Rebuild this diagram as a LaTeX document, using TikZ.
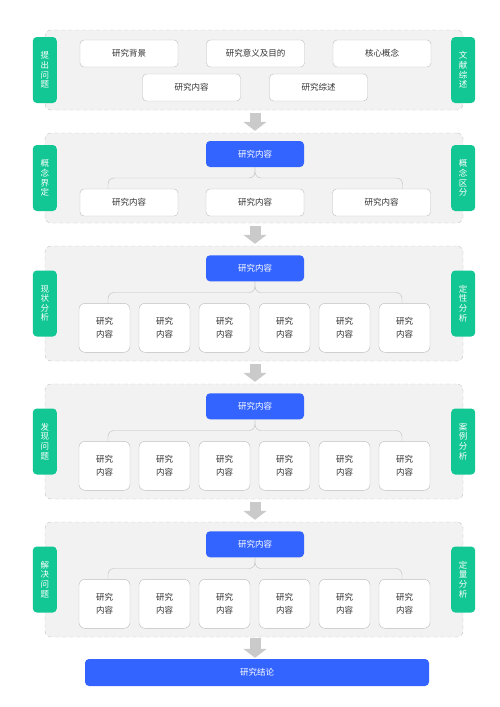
\documentclass[tikz,border=0pt]{standalone}
\usepackage{fontspec}
\setmainfont{Noto Sans CJK SC}
\usepackage{xcolor}
\usetikzlibrary{arrows.meta}

\begin{document}
\begin{tikzpicture}[x=1pt,y=-1pt,
  panel/.style={draw=linegray,fill=panelgray,dash pattern=on 4pt off 3pt,rounded corners=6,minimum width=418,minimum height=#1},
  side/.style={fill=sidegreen,text=white,rounded corners=4,minimum width=24,minimum height=66,align=center,inner sep=0,font={\fontsize{8.5}{9.6}\selectfont\lineskiplimit=-20pt}},
  wbox/.style={draw=boxgray,fill=white,rounded corners=4,minimum width=98,minimum height=27,inner sep=0,text=txtgray,font={\fontsize{8.5}{12}\selectfont}},
  sbox/.style={draw=boxgray,fill=white,rounded corners=6,minimum width=51,minimum height=49,inner sep=0,align=center,text=txtgray,font={\fontsize{8.5}{12.5}\selectfont\lineskiplimit=-20pt}},
  bbox/.style={fill=mainblue,text=white,rounded corners=4,minimum width=98,minimum height=26,inner sep=0,font={\fontsize{8.5}{12}\selectfont}},
  brace/.style={draw=boxgray,rounded corners=6},
  flow/.style={draw=arrowgray,line width=11pt,-{Triangle[width=23pt,length=9pt]}}]
\definecolor{panelgray}{HTML}{F2F2F2}
\definecolor{linegray}{HTML}{C4C4C4}
\definecolor{boxgray}{HTML}{BDBDBD}
\definecolor{txtgray}{HTML}{333333}
\definecolor{sidegreen}{HTML}{12C793}
\definecolor{mainblue}{HTML}{3464FF}
\definecolor{arrowgray}{HTML}{CACACA}
\useasboundingbox (0,0) rectangle (500,707);
% panels
\node [panel=80] (p1) at (254,70) {};
\node [panel=90] (p2) at (254,178) {};
\foreach \n/\y in {3/303.5,4/441.5,5/579.5}
  {\node [panel=115] (p\n) at (254,\y) {};}
% side labels
\foreach \n/\lft/\rgt in {1/{提\\出\\问\\题}/{文\\献\\综\\述},2/{概\\念\\界\\定}/{概\\念\\区\\分},
  3/{现\\状\\分\\析}/{定\\性\\分\\析},4/{发\\现\\问\\题}/{案\\例\\分\\析},5/{解\\决\\问\\题}/{定\\量\\分\\析}}
  {\node [side] (l\n) at (p\n.west) {\lft};
   \node [side] (r\n) at (p\n.east) {\rgt};}
% panel 1
\node [wbox] (a1) at (129,53.5) {研究背景};
\node [wbox] (a2) at (255.5,53.5) {研究意义及目的};
\node [wbox] (a3) at (382,53.5) {核心概念};
\node [wbox] (a4) at (191.5,87.5) {研究内容};
\node [wbox] (a5) at (318.5,87.5) {研究综述};
% panel 2
\node [bbox] (b2) at (255,154) {研究内容};
\foreach \i/\x in {1/129,2/255,3/381.5}
  {\node [wbox] (c2\i) at (\x,202.5) {研究内容};}
\draw [brace] (b2.south) -- (255,178) -| ([xshift=-21pt]c21.north);
\draw [brace] (b2.south) -- (255,178) -| ([xshift=21pt]c23.north);
% panels 3 to 5
\foreach \n in {3,4,5}
{ \node [bbox] (b\n) at ([yshift=-22.5]p\n.north -| 255,0) {研究内容};
  \foreach \i in {1,...,6}
    {\node [sbox] (c\n\i) at ([yshift=-82]p\n.north -| 44.5+60*\i,0) {研究\\内容};}
  \draw [brace] (b\n.south) -- ++(0,11) -| ([xshift=3.5pt]c\n1.north);
  \draw [brace] (b\n.south) -- ++(0,11) -| ([xshift=-2.5pt]c\n6.north);
}
% result
\node [bbox,minimum width=344,minimum height=27] (res) at (257,672.5) {研究结论};
% arrows
\foreach \a/\b in {p1/p2,p2/p3,p3/p4,p4/p5}
  {\draw [flow,shorten <=3pt,shorten >=2pt] (\a.south -| 255,0) -- (\b.north -| 255,0);}
\draw [flow,shorten <=1pt,shorten >=1pt] (p5.south -| 255,0) -- (res.north -| 255,0);
\end{tikzpicture}
\end{document}
